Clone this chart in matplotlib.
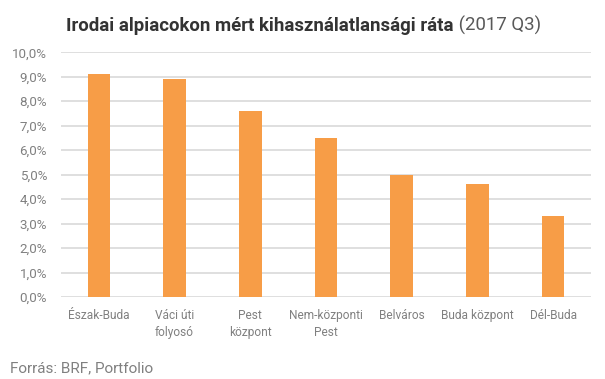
import matplotlib
matplotlib.use("Agg")
import matplotlib.pyplot as plt
from matplotlib.ticker import FuncFormatter

plt.rcParams['font.family'] = ['Roboto', 'DejaVu Sans']

# data
markets = ['Észak-Buda', 'Váci úti\nfolyosó', 'Pest\nközpont', 'Nem-központi\nPest',
           'Belváros', 'Buda központ', 'Dél-Buda']
vacancy = [9.1, 8.9, 7.6, 6.5, 5.0, 4.6, 3.3]

title_bold = 'Irodai alpiacokon mért kihasználatlansági ráta'
title_rest = ' (2017 Q3)'
source = 'Forrás: BRF, Portfolio'

bar_color = '#F79D47'
grey = '#808080'

fig = plt.figure(figsize=(6.05, 3.79), dpi=100)
ax = fig.add_axes([61/605, 1-297/379, 530/605, (297-52.3)/379])

x = range(len(markets))
ax.bar(x, vacancy, width=0.30, color=bar_color, zorder=3)

ax.set_ylim(0, 10)
ax.set_xlim(-0.5, len(markets)-0.5)
ax.set_yticks(range(0, 11))
ax.yaxis.set_major_formatter(FuncFormatter(lambda v, p: ('%.1f%%' % v).replace('.', ',')))
ax.set_xticks(list(x))
ax.set_xticklabels(markets, linespacing=1.4)

ax.tick_params(axis='y', length=0, pad=10, labelsize=9.6, labelcolor=grey)
ax.tick_params(axis='x', length=0, pad=8.5, labelsize=8.6, labelcolor=grey)
ax.grid(axis='y', color='#D9D9D9', linewidth=1.2, zorder=0)
for s in ax.spines.values():
    s.set_visible(False)

# title: bold part + regular part
t1 = fig.text(66/605, 1-30.7/379, title_bold, fontsize=13.45, fontweight='bold',
              color='#333333', ha='left', va='baseline')
fig.canvas.draw()
bb = t1.get_window_extent()
fig.text(bb.x1/fig.bbox.width, 1-30.7/379, title_rest, fontsize=13.45,
         color='#595959', ha='left', va='baseline')

fig.text(10.5/605, 1-372/379, source, fontsize=11, color=grey, ha='left', va='baseline')

fig.savefig('out.png', dpi=100)
